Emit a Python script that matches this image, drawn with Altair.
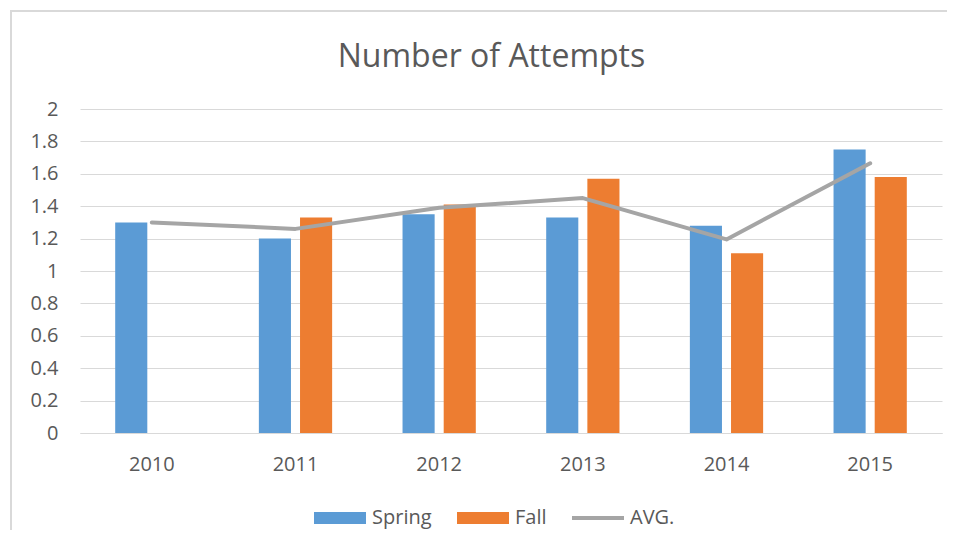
import altair as alt
import pandas as pd

years = ["2010", "2011", "2012", "2013", "2014", "2015"]
spring = [1.30, 1.20, 1.35, 1.33, 1.28, 1.75]
fall = [None, 1.33, 1.41, 1.57, 1.11, 1.58]
avg = [1.30, 1.26, 1.39, 1.45, 1.195, 1.665]
series = ["Spring", "Fall", "AVG."]
colors = ["#5B9BD5", "#ED7D31", "#A5A5A5"]
y_ticks = [0, 0.2, 0.4, 0.6, 0.8, 1.0, 1.2, 1.4, 1.6, 1.8, 2.0]
title_text = "Number of Attempts"

rows = []
for yr, s, f in zip(years, spring, fall):
    rows.append({"year": yr, "series": "Spring", "value": s})
    if f is not None:
        rows.append({"year": yr, "series": "Fall", "value": f})
bars_df = pd.DataFrame(rows)
avg_df = pd.DataFrame({"year": years, "series": "AVG.", "value": avg})

FONT = "Open Sans"
TXT = "#595959"
GRID = "#D9D9D9"

color_scale = alt.Scale(domain=series, range=colors)
shape_scale = alt.Scale(
    domain=series,
    range=["M-2,-0.46H2V0.46H-2Z", "M-2,-0.46H2V0.46H-2Z", "M-2,-0.15H2V0.15H-2Z"],
)

x_enc = alt.X(
    "year:N",
    sort=years,
    scale=alt.Scale(domain=years, paddingInner=0.49, paddingOuter=0.245),
    axis=alt.Axis(
        title=None, labelAngle=0, ticks=False, domainColor=GRID, domainWidth=1,
        labelFont=FONT, labelFontSize=20, labelColor=TXT, labelPadding=21, grid=False,
    ),
)
y_enc = alt.Y(
    "value:Q",
    scale=alt.Scale(domain=[0, 2], nice=False),
    axis=alt.Axis(
        title=None, values=y_ticks, format=".1~f", ticks=False, domain=False,
        gridColor=GRID, gridWidth=1, labelFont=FONT, labelFontSize=20,
        labelColor=TXT, labelPadding=22, labelOverlap=False, tickCount=11,
    ),
)

bars = alt.Chart(bars_df).mark_bar().encode(
    x=x_enc,
    y=y_enc,
    xOffset=alt.XOffset("series:N", sort=["Spring", "Fall"],
                        scale=alt.Scale(domain=["Spring", "Fall"], paddingInner=0.22, paddingOuter=0)),
    color=alt.Color("series:N", scale=color_scale, legend=None),
)

line = alt.Chart(avg_df).mark_line(strokeWidth=4, strokeCap="round", strokeJoin="round").encode(
    x=x_enc,
    y=y_enc,
    color=alt.Color("series:N", scale=color_scale, legend=None),
)

legend_pts = alt.Chart(avg_df).transform_filter("false").mark_point(filled=True, opacity=1).encode(
    x=x_enc,
    y=y_enc,
    color=alt.Color(
        "series:N", scale=color_scale,
        legend=alt.Legend(
            title=None, orient="none", legendX=247, legendY=396, direction="horizontal",
            symbolSize=676, symbolStrokeWidth=0, symbolOpacity=1, labelFont=FONT,
            labelFontSize=20, labelColor=TXT, labelOffset=19, columnPadding=25,
        ),
    ),
    shape=alt.Shape("series:N", scale=shape_scale),
)

border_left = alt.Chart(pd.DataFrame({"a": [0]})).mark_rule(color=GRID, strokeWidth=2).encode(
    x=alt.value(-69), y=alt.value(-98), y2=alt.value(600)
)
border_top = alt.Chart(pd.DataFrame({"a": [0]})).mark_rule(color=GRID, strokeWidth=2).encode(
    x=alt.value(-70), x2=alt.value(1200), y=alt.value(-98)
)

title = alt.Chart(pd.DataFrame({"t": [title_text]})).mark_text(
    font=FONT, fontSize=32, color=TXT, align="center", baseline="alphabetic"
).encode(text="t:N", x=alt.value(411.5), y=alt.value(-42))

chart = alt.layer(border_left, border_top, title, bars, line, legend_pts).resolve_legend(
    color="independent", shape="independent"
).properties(
    width=862,
    height=324,
    autosize=alt.AutoSizeParams(type="none"),
    padding={"left": 72, "top": 101, "right": 5, "bottom": 97},
).configure_view(stroke=None)

chart.save("out.html", embed_options={"renderer": "svg", "actions": False})
